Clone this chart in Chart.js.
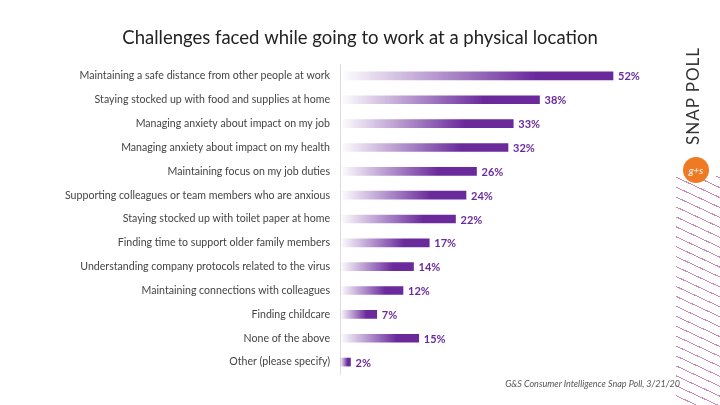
<!DOCTYPE html>
<html><head><meta charset="utf-8">
<script src="https://cdn.jsdelivr.net/npm/chart.js@4"></script>
<style>
body{margin:0;width:720px;height:405px;overflow:hidden;background:#fff;font-family:Lato,"Open Sans",sans-serif;position:relative}
#wrap{position:absolute;left:0;top:0;width:720px;height:405px}
#snap{position:absolute;left:682px;top:145px;transform-origin:0 0;transform:rotate(-90deg);font-size:17px;letter-spacing:1px;color:#333;white-space:nowrap}
#logo{position:absolute;left:683px;top:157px;width:26px;height:26px;border-radius:50%;background:#ef7a24;color:#fff;font-size:10px;text-align:center;line-height:26px;font-style:italic}
#hatch{position:absolute;left:676px;top:176px;width:44px;height:229px;background:repeating-linear-gradient(25deg,transparent 0 8px,#c98bb5 8px 9px)}
#src{position:absolute;right:40px;top:378px;font-size:9px;font-style:italic;color:#555}
</style></head><body>
<div id="hatch"></div>
<div id="wrap"><canvas id="c" width="720" height="405"></canvas></div>
<div id="snap">SNAP POLL</div>
<div id="logo">g+s</div>
<div id="src">G&amp;S Consumer Intelligence Snap Poll, 3/21/20</div>
<script>
const categories=["Maintaining a safe distance from other people at work","Staying stocked up with food and supplies at home","Managing anxiety about impact on my job","Managing anxiety about impact on my health","Maintaining focus on my job duties","Supporting colleagues or team members who are anxious","Staying stocked up with toilet paper at home","Finding time to support older family members","Understanding company protocols related to the virus","Maintaining connections with colleagues","Finding childcare","None of the above","Other (please specify)"];
const values=[52,38,33,32,26,24,22,17,14,12,7,15,2];
const purple='#6a2a9c';
const labelPlugin={id:'lbl',afterDatasetsDraw(chart){
  const ctx=chart.ctx;const meta=chart.getDatasetMeta(0);
  ctx.save();ctx.fillStyle=purple;ctx.font='bold 11px Lato';ctx.textBaseline='middle';
  meta.data.forEach((b,i)=>ctx.fillText(values[i]+'%',b.x+5,b.y+1));ctx.restore();}};
new Chart(document.getElementById('c'),{type:'bar',
 data:{labels:categories,datasets:[{data:values,barThickness:8,
  backgroundColor(c){const ch=c.chart;const xs=ch.scales.x;if(!xs)return purple;
   const v=values[c.dataIndex];const x0=xs.getPixelForValue(0),x1=xs.getPixelForValue(v);
   if(!isFinite(x0)||!isFinite(x1)||x1<=x0)return purple;
   const g=ch.ctx.createLinearGradient(x0,0,x1,0);
   g.addColorStop(0,'rgba(106,42,156,0)');g.addColorStop(0.72,purple);g.addColorStop(1,purple);return g;}}]},
 plugins:[labelPlugin,{id:'title',afterDraw(ch){const x=ch.ctx;x.save();x.font='18.5px Lato';x.fillStyle='#222';x.textAlign='center';x.fillText('Challenges faced while going to work at a physical location',360,44);x.restore();}}],
 options:{indexAxis:'y',responsive:false,animation:false,
  layout:{padding:{top:64,bottom:31,right:65,left:0}},
  plugins:{legend:{display:false},tooltip:{enabled:false}},
  scales:{x:{min:0,max:60,display:false},
   y:{afterFit(s){s.width=340},grid:{display:false,drawTicks:false},border:{color:'#ddd'},
      ticks:{padding:10,color:'#444',font:{size:10.6,family:'Lato'}}}}}});
</script></body></html>
